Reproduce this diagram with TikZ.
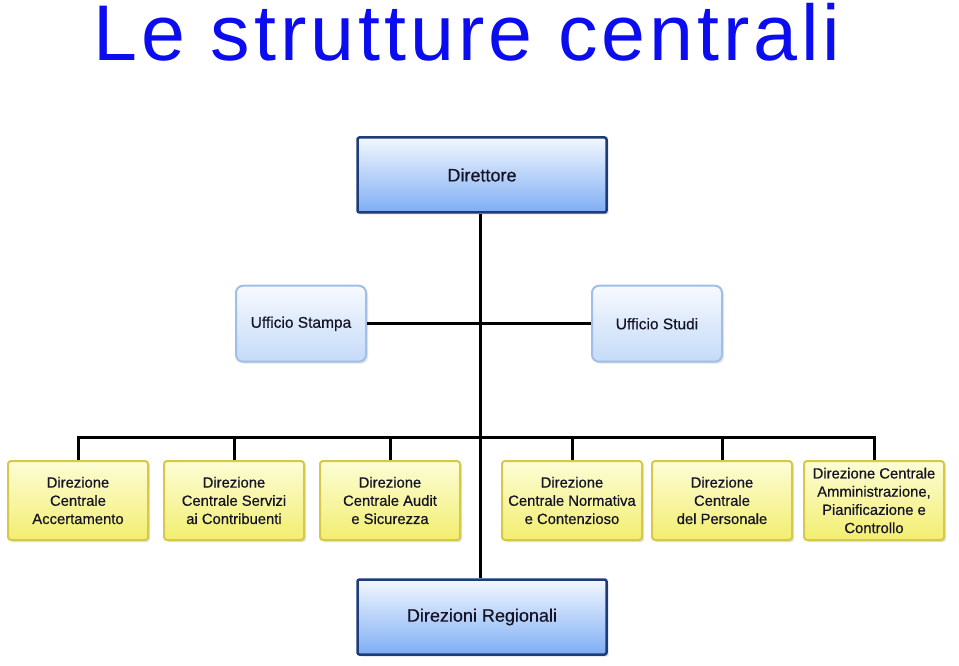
\documentclass[tikz,border=0pt]{standalone}
\usepackage{fontspec}
\setmainfont{Liberation Sans}
\newfontfamily\boxfont[FakeBold=0.5]{Liberation Sans}
\newfontfamily\titlefont[LetterSpace=5.0]{Liberation Sans}
\usetikzlibrary{positioning, shadows}
\definecolor{titleblue}{RGB}{12, 12, 240}
\definecolor{boxtext}{RGB}{20, 20, 38}
\definecolor{headline}{RGB}{30, 60, 122}
\definecolor{headtop}{RGB}{243, 247, 254}
\definecolor{headbottom}{RGB}{126, 174, 244}
\definecolor{stafftop}{RGB}{247, 250, 254}
\definecolor{staffbottom}{RGB}{196, 218, 248}
\definecolor{staffline}{RGB}{160, 190, 232}
\definecolor{dirtop}{RGB}{253, 253, 214}
\definecolor{dirbottom}{RGB}{242, 238, 112}
\definecolor{dirline}{RGB}{214, 200, 72}

\begin{document}
\begin{tikzpicture}[
    x=1pt, y=1pt,
    every node/.style={text=boxtext},
    head/.style={rectangle, draw=headline, line width=2.5pt, rounded corners=2pt,
                 top color=headtop, bottom color=headbottom, align=center,
                 minimum width=249pt, minimum height=75pt,
                 font=\boxfont\fontsize{18}{21}\selectfont,
                 drop shadow={opacity=0.25, shadow xshift=2pt, shadow yshift=-2pt}},
    staff/.style={rectangle, draw=staffline, line width=2pt, rounded corners=7pt,
                  top color=stafftop, bottom color=staffbottom, align=center,
                  minimum width=130pt, minimum height=76pt,
                  font=\boxfont\fontsize{15.5}{18}\selectfont,
                  drop shadow={opacity=0.2, shadow xshift=2pt, shadow yshift=-2pt}},
    office/.style={rectangle, draw=dirline, line width=2pt, rounded corners=3pt,
                   top color=dirtop, bottom color=dirbottom, align=center,
                   minimum width=140pt, minimum height=79pt, inner sep=2pt,
                   font=\boxfont\fontsize{14.8}{18.2}\selectfont,
                   drop shadow={opacity=0.25, shadow xshift=2pt, shadow yshift=-2pt}},
    link/.style={black, line width=3pt}
]
    \useasboundingbox (0,0) rectangle (959,665);
    \node[font=\titlefont\fontsize{79}{80}\selectfont, text=titleblue, anchor=base]
        (title) at (467,604) {Le strutture centrali};

    \node[head] (dir) at (482,490) {Direttore};
    \node[staff, below=71pt of dir.south, xshift=-181pt] (stampa) {Ufficio Stampa};
    \node[staff, below=71pt of dir.south, xshift=175pt]  (studi)  {Ufficio Studi};

    \node[office] (dc1) at (78,164.5)  {Direzione\\Centrale\\Accertamento};
    \node[office] (dc2) at (234,164.5) {Direzione\\Centrale Servizi\\ai Contribuenti};
    \node[office] (dc3) at (390,164.5) {Direzione\\Centrale Audit\\e Sicurezza};
    \node[office] (dc4) at (572,164.5) {Direzione\\Centrale Normativa\\e Contenzioso};
    \node[office] (dc5) at (722,164.5) {Direzione\\Centrale\\del Personale};
    \node[office] (dc6) at (874,164.5) {Direzione Centrale\\Amministrazione,\\Pianificazione e\\Controllo};

    \node[head] (reg) at (482,48) {Direzioni Regionali};

    \coordinate (bus) at (480,228);
    \draw[link] (dir.south -| bus) -- (reg.north -| bus);
    \draw[link] (stampa) -- (studi);
    \draw[link] (dc1.north) |- (bus) -| (dc6.north);
    \draw[link] (dc2.north) -- (dc2.north |- bus);
    \draw[link] (dc3.north) -- (dc3.north |- bus);
    \draw[link] (dc4.north) -- (dc4.north |- bus);
    \draw[link] (dc5.north) -- (dc5.north |- bus);
\end{tikzpicture}
\end{document}
